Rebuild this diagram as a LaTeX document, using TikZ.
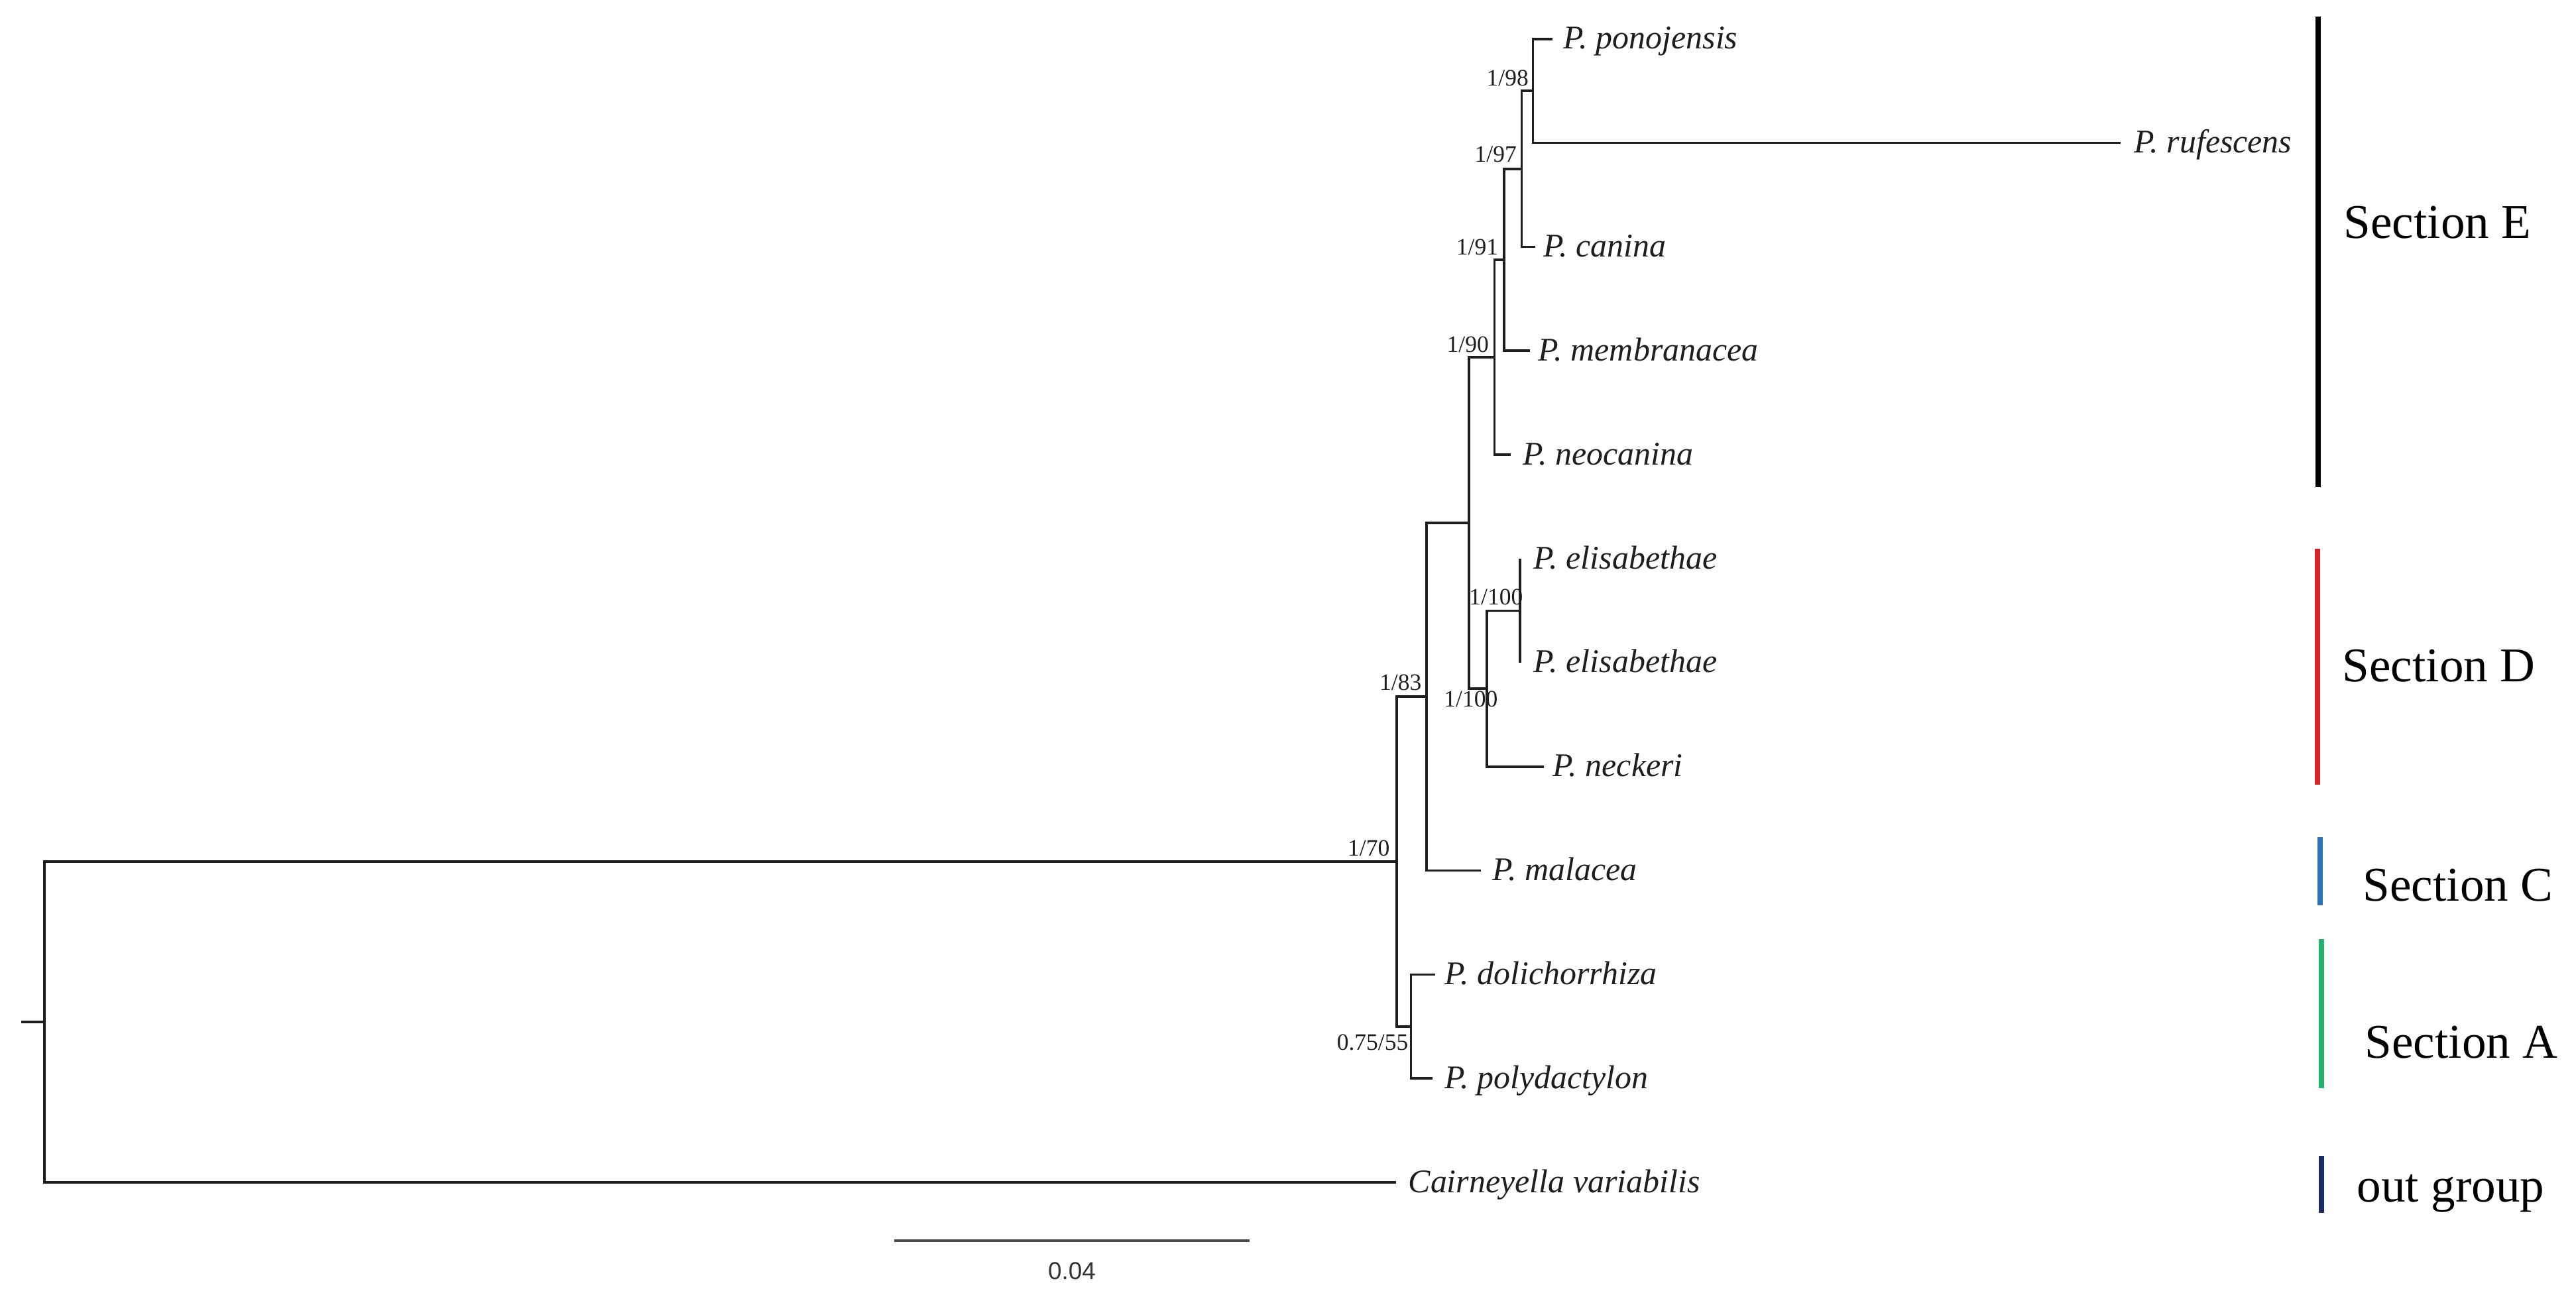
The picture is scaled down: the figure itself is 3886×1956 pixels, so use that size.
\documentclass[tikz,border=0pt]{standalone}
\usepackage{fontspec}
\setmainfont{Liberation Serif}
\newfontfamily\scalebarfont{Liberation Sans}
\usetikzlibrary{calc}
\definecolor{secD}{RGB}{218,32,40}
\definecolor{secC}{RGB}{46,117,182}
\definecolor{secA}{RGB}{38,178,110}
\definecolor{secOut}{RGB}{30,42,100}
\definecolor{treeline}{RGB}{30,30,30}
\begin{document}
\begin{tikzpicture}[x=0.01cm,y=-0.01cm,
  branch/.style={line width=1.05pt, draw=treeline},
  taxon/.style={anchor=base west, inner sep=0pt, text=treeline, font=\fontsize{14.2}{17}\selectfont\itshape},
  support/.style={anchor=base east, inner sep=0pt, text=treeline, font=\fontsize{10.1}{12}\selectfont},
  sectlabel/.style={anchor=base west, inner sep=0pt, text=black, font=\fontsize{20.8}{25}\selectfont},
  sectbar/.style={line width=2.3pt},
  scalelab/.style={anchor=base, inner sep=0pt, text=black!80, font=\scalebarfont\fontsize{10.5}{12}\selectfont}]
\fill[white] (0,0) rectangle (3886,1956);
\useasboundingbox (0,0) rectangle (3886,1956);
% tips
\coordinate (t1) at (2342,58.7);
\coordinate (t2) at (3199,215.5);
\coordinate (t3) at (2315.6,372.4);
\coordinate (t4) at (2308,529.2);
\coordinate (t5) at (2278.6,686);
\coordinate (t6) at (2293,843);
\coordinate (t7) at (2293,999.8);
\coordinate (t8) at (2329,1156.7);
\coordinate (t9) at (2234.4,1313.5);
\coordinate (t10) at (2165,1470.4);
\coordinate (t11) at (2160.7,1627.2);
\coordinate (t12) at (2106,1784);
% internal nodes
\coordinate (n98) at (2312.5,137.1);
\coordinate (n97) at (2295.5,254.8);
\coordinate (n91) at (2268.75,392);
\coordinate (n90) at (2254.5,539);
\coordinate (n100a) at (2293,921.4);
\coordinate (n100b) at (2243,1039);
\coordinate (nED) at (2216,789);
\coordinate (n83) at (2152,1051);
\coordinate (n55) at (2128.6,1548.8);
\coordinate (n70) at (2107,1300);
\coordinate (root) at (67,1542);
\coordinate (stub) at (32,1542);
% branches
\draw[branch] (stub) -- (root);
\draw[branch] (root) |- (n70);
\draw[branch] (root) |- (t12);
\draw[branch] (n70) |- (n83);
\draw[branch] (n70) |- (n55);
\draw[branch] (n83) |- (nED);
\draw[branch] (n83) |- (t9);
\draw[branch] (nED) |- (n90);
\draw[branch] (nED) |- (n100b);
\draw[branch] (n90) |- (n91);
\draw[branch] (n90) |- (t5);
\draw[branch] (n91) |- (n97);
\draw[branch] (n91) |- (t4);
\draw[branch] (n97) |- (n98);
\draw[branch] (n97) |- (t3);
\draw[branch] (n98) |- (t1);
\draw[branch] (n98) |- (t2);
\draw[branch] (n100b) |- (n100a);
\draw[branch] (n100b) |- (t8);
\draw[branch] (n100a) |- (t6);
\draw[branch] (n100a) |- (t7);
\draw[branch] (n55) |- (t10);
\draw[branch] (n55) |- (t11);
% taxon labels
\node[taxon] (L1) at ($(t1)+(16,15)$) {P. ponojensis};
\node[taxon] (L2) at ($(t2)+(20,15)$) {P. rufescens};
\node[taxon] (L3) at ($(t3)+(12,15)$) {P. canina};
\node[taxon] (L4) at ($(t4)+(12,15)$) {P. membranacea};
\node[taxon] (L5) at ($(t5)+(18,15)$) {P. neocanina};
\node[taxon] (L6) at ($(t6)+(20,15)$) {P. elisabethae};
\node[taxon] (L7) at ($(t7)+(20,15)$) {P. elisabethae};
\node[taxon] (L8) at ($(t8)+(13,15)$) {P. neckeri};
\node[taxon] (L9) at ($(t9)+(16,15)$) {P. malacea};
\node[taxon] (L10) at ($(t10)+(14,15)$) {P. dolichorrhiza};
\node[taxon] (L11) at ($(t11)+(18,15)$) {P. polydactylon};
\node[taxon] (L12) at ($(t12)+(18,15)$) {Cairneyella variabilis};
% support values
\node[support] (s98) at ($(n98)+(-6,-8)$) {1/98};
\node[support] (s97) at ($(n97)+(-7,-10)$) {1/97};
\node[support] (s91) at ($(n91)+(-8,-8)$) {1/91};
\node[support] (s90) at ($(n90)+(-8,-8)$) {1/90};
\node[support] (s100a) at ($(n100a)+(5,-9)$) {1/100};
\node[support] (s100b) at ($(n100b)+(17,27)$) {1/100};
\node[support] (s83) at ($(n83)+(-7,-10)$) {1/83};
\node[support] (s70) at ($(n70)+(-10,-9)$) {1/70};
\node[support] (s55) at ($(n55)+(-3.6,36)$) {0.75/55};
% section bars
\coordinate (Ea) at (3497,25);   \coordinate (Eb) at (3497,735);
\coordinate (Da) at (3496,828);  \coordinate (Db) at (3496,1184);
\coordinate (Ca) at (3500,1263); \coordinate (Cb) at (3500,1366);
\coordinate (Aa) at (3502,1417); \coordinate (Ab) at (3502,1642);
\coordinate (Oa) at (3502,1744); \coordinate (Ob) at (3502,1830);
\draw[sectbar, draw=black] (Ea) -- (Eb);
\draw[sectbar, draw=secD] (Da) -- (Db);
\draw[sectbar, draw=secC] (Ca) -- (Cb);
\draw[sectbar, draw=secA] (Aa) -- (Ab);
\draw[sectbar, draw=secOut] (Oa) -- (Ob);
\node[sectlabel] (SE) at (3535,359) {Section E};
\node[sectlabel] (SD) at (3533,1028) {Section D};
\node[sectlabel] (SC) at (3564,1359) {Section C};
\node[sectlabel] (SA) at (3567,1596) {Section A};
\node[sectlabel] (SO) at (3555,1813) {out group};
% scale bar
\coordinate (sbL) at (1349,1872);
\coordinate (sbR) at (1885,1872);
\draw[line width=1.3pt, draw=black!70] (sbL) -- (sbR);
\node[scalelab] (sblab) at (1617,1930) {0.04};
\end{tikzpicture}
\end{document}
